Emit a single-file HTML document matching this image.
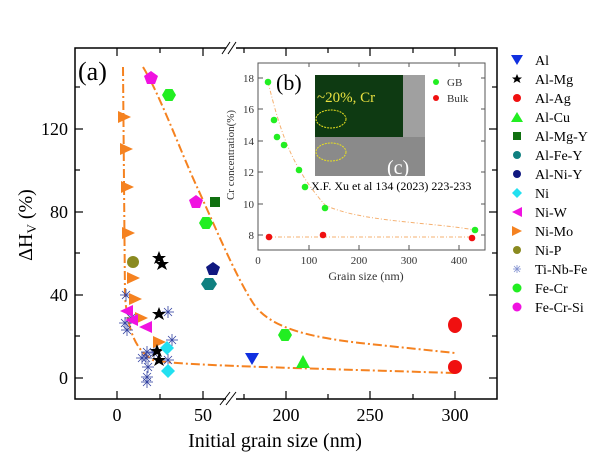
<!DOCTYPE html>
<html><head><style>body{margin:0;background:#fff}svg{display:block}svg text{font-family:"Liberation Serif","Times New Roman",serif}</style></head><body>
<svg width="600" height="464" viewBox="0 0 600 464" xmlns="http://www.w3.org/2000/svg" font-family="Liberation Serif, serif">
<defs>
<g id="tr"><polygon points="-6,-6 7,0 -6,6" fill="#f58220"/></g>
<g id="tl"><polygon points="6,-6 -7,0 6,6" fill="#f012e0"/></g>
<g id="st"><polygon points="0,-7 2,-2 7,-2 3,1 5,6 0,3 -5,6 -3,1 -7,-2 -2,-2" fill="#000"/></g>
<g id="ast" stroke="#3040a0" stroke-width="0.8"><line x1="-6" y1="0" x2="6" y2="0"/><line x1="0" y1="-6" x2="0" y2="6"/><line x1="-4" y1="-4" x2="4" y2="4"/><line x1="-4" y1="4" x2="4" y2="-4"/></g>
<g id="hx"><polygon points="-3.5,-6 3.5,-6 7,0 3.5,6 -3.5,6 -7,0" fill="#22ee22"/></g>
</defs>
<rect x="75" y="48" width="422" height="351" fill="none" stroke="#000" stroke-width="1.5"/>
<rect x="226" y="44" width="10" height="8" fill="#fff"/>
<rect x="226" y="395" width="10" height="8" fill="#fff"/>
<g stroke="#000" stroke-width="1"><line x1="222" y1="54" x2="230" y2="42"/><line x1="228" y1="54" x2="236" y2="42"/><line x1="220" y1="405" x2="230" y2="392"/><line x1="226" y1="405" x2="236" y2="392"/></g>
<g stroke="#000" stroke-width="1.2">
<line x1="117" y1="399" x2="117" y2="391"/><line x1="160" y1="399" x2="160" y2="394"/><line x1="203" y1="399" x2="203" y2="391"/>
<line x1="244" y1="399" x2="244" y2="394"/><line x1="286" y1="399" x2="286" y2="391"/><line x1="328" y1="399" x2="328" y2="394"/><line x1="370" y1="399" x2="370" y2="391"/><line x1="413" y1="399" x2="413" y2="394"/><line x1="455" y1="399" x2="455" y2="391"/>
<line x1="117" y1="48" x2="117" y2="56"/><line x1="160" y1="48" x2="160" y2="53"/><line x1="203" y1="48" x2="203" y2="56"/><line x1="244" y1="48" x2="244" y2="53"/><line x1="286" y1="48" x2="286" y2="56"/><line x1="328" y1="48" x2="328" y2="53"/><line x1="370" y1="48" x2="370" y2="56"/><line x1="413" y1="48" x2="413" y2="53"/><line x1="455" y1="48" x2="455" y2="56"/>
<line x1="75" y1="378" x2="83" y2="378"/><line x1="75" y1="336" x2="80" y2="336"/><line x1="75" y1="295" x2="83" y2="295"/><line x1="75" y1="253" x2="80" y2="253"/><line x1="75" y1="212" x2="83" y2="212"/><line x1="75" y1="170" x2="80" y2="170"/><line x1="75" y1="129" x2="83" y2="129"/><line x1="75" y1="87" x2="80" y2="87"/>
<line x1="497" y1="378" x2="489" y2="378"/><line x1="497" y1="336" x2="492" y2="336"/><line x1="497" y1="295" x2="489" y2="295"/><line x1="497" y1="253" x2="492" y2="253"/><line x1="497" y1="212" x2="489" y2="212"/><line x1="497" y1="170" x2="492" y2="170"/><line x1="497" y1="129" x2="489" y2="129"/><line x1="497" y1="87" x2="492" y2="87"/>
</g>
<g font-size="18" text-anchor="middle">
<text x="117" y="421">0</text><text x="203" y="421">50</text><text x="286" y="421">200</text><text x="370" y="421">250</text><text x="455" y="421">300</text>
<text x="275" y="447" font-size="20">Initial grain size (nm)</text>
</g>
<g font-size="18" text-anchor="end">
<text x="68" y="384">0</text><text x="68" y="301">40</text><text x="68" y="218">80</text><text x="68" y="135">120</text>
</g>
<text transform="translate(32,225) rotate(-90)" font-size="20" text-anchor="middle">ΔH<tspan font-size="13" dy="4">V</tspan><tspan dy="-4"> (%)</tspan></text>
<text x="78" y="80" font-size="26">(a)</text>
<g fill="none" stroke="#f58220" stroke-width="2" stroke-dasharray="9,3,2,3">
<path d="M143,67 C160,95 180,150 197,187 S235,275 253,303 S320,338 360,343 L455,353"/>
<path d="M123,67 L125,297 C128,330 135,350 153,360 C165,363 200,365 293,368 L455,373"/>
</g>
<use href="#ast" x="126" y="295"/><use href="#ast" x="125" y="323"/><use href="#ast" x="127" y="330"/><use href="#ast" x="131" y="318"/><use href="#ast" x="168" y="312"/><use href="#ast" x="172" y="340"/><use href="#ast" x="147" y="352"/><use href="#ast" x="146" y="358"/><use href="#ast" x="148" y="367"/><use href="#ast" x="147" y="377"/><use href="#ast" x="147" y="382"/><use href="#ast" x="168" y="360"/><use href="#ast" x="154" y="353"/><use href="#ast" x="142" y="358"/>
<use href="#tr" x="124" y="117"/><use href="#tr" x="126" y="149"/><use href="#tr" x="127" y="187"/><use href="#tr" x="128" y="233"/><use href="#tr" x="133" y="278"/><use href="#tr" x="135" y="299"/><use href="#tr" x="141" y="318"/><use href="#tr" x="159" y="342"/>
<use href="#tl" x="127" y="311"/><use href="#tl" x="132" y="320"/><use href="#tl" x="146" y="327"/>
<circle cx="133" cy="262" r="6" fill="#8a8a20"/>
<use href="#st" x="159" y="258"/><use href="#st" x="162" y="264"/><use href="#st" x="159" y="314"/><use href="#st" x="157" y="351"/><use href="#st" x="159" y="360"/>
<polygon points="167,341 174,348 167,355 160,348" fill="#22e0f0"/><polygon points="168,364 175,371 168,378 161,371" fill="#22e0f0"/>
<polygon points="151,71 158,76 155,84 147,84 144,76" fill="#f012e0"/><polygon points="196,195 203,200 200,208 192,208 189,200" fill="#f012e0"/>
<use href="#hx" x="169" y="95"/><use href="#hx" x="206" y="223"/><use href="#hx" x="285" y="335"/>
<rect x="210" y="197" width="10" height="10" fill="#107010"/>
<polygon points="213,262 220,267 217,275 209,275 206,267" fill="#101880"/>
<polygon points="205,278 213,278 217,284 213,290 205,290 201,284" fill="#108080"/>
<polygon points="245,353 259,353 252,365" fill="#1030e0"/>
<polygon points="303,355 310,368 296,368" fill="#22ee22"/>
<ellipse cx="455" cy="325" rx="7" ry="8" fill="#f01010"/><circle cx="455" cy="367" r="7" fill="#f01010"/>
<rect x="258" y="63" width="227" height="187" fill="#fff" stroke="#555" stroke-width="1"/>
<g stroke="#555" stroke-width="1">
<line x1="258" y1="235" x2="263" y2="235"/><line x1="258" y1="204" x2="263" y2="204"/><line x1="258" y1="172" x2="263" y2="172"/><line x1="258" y1="141" x2="263" y2="141"/><line x1="258" y1="109" x2="263" y2="109"/><line x1="258" y1="78" x2="263" y2="78"/>
<line x1="309" y1="250" x2="309" y2="245"/><line x1="359" y1="250" x2="359" y2="245"/><line x1="409" y1="250" x2="409" y2="245"/><line x1="459" y1="250" x2="459" y2="245"/>
<line x1="309" y1="63" x2="309" y2="67"/><line x1="359" y1="63" x2="359" y2="67"/><line x1="409" y1="63" x2="409" y2="67"/><line x1="459" y1="63" x2="459" y2="67"/>
<line x1="485" y1="235" x2="481" y2="235"/><line x1="485" y1="204" x2="481" y2="204"/><line x1="485" y1="172" x2="481" y2="172"/><line x1="485" y1="141" x2="481" y2="141"/><line x1="485" y1="109" x2="481" y2="109"/><line x1="485" y1="78" x2="481" y2="78"/>
</g>
<g font-size="11" text-anchor="end" fill="#333"><text x="254" y="239">8</text><text x="254" y="208">10</text><text x="254" y="176">12</text><text x="254" y="145">14</text><text x="254" y="113">16</text><text x="254" y="82">18</text></g>
<g font-size="11" text-anchor="middle" fill="#333"><text x="258" y="264">0</text><text x="309" y="264">100</text><text x="359" y="264">200</text><text x="409" y="264">300</text><text x="459" y="264">400</text><text x="366" y="280" font-size="12">Grain size (nm)</text></g>
<text transform="translate(234,155) rotate(-90)" font-size="11" text-anchor="middle" fill="#333">Cr concentration(%)</text>
<rect x="315" y="75" width="110" height="101" fill="#8a8a8a"/>
<rect x="315" y="75" width="88" height="62" fill="#0e3a12"/>
<rect x="403" y="75" width="22" height="62" fill="#a0a0a0"/>
<ellipse cx="331" cy="119" rx="15" ry="9" fill="none" stroke="#e8e020" stroke-dasharray="2,1"/>
<ellipse cx="331" cy="152" rx="15" ry="9" fill="none" stroke="#e8e020" stroke-dasharray="2,1"/>
<text x="317" y="102" font-size="15" fill="#e8e040">~20%, Cr</text>
<text x="387" y="174" font-size="20" fill="#fff">(c)</text>
<text x="276" y="90" font-size="22">(b)</text>
<text x="311" y="190" font-size="12">X.F. Xu et al 134 (2023) 223-233</text>
<circle cx="436" cy="82" r="3" fill="#22ee22"/><text x="447" y="86" font-size="11" fill="#333">GB</text>
<circle cx="436" cy="98" r="3" fill="#f01010"/><text x="447" y="102" font-size="11" fill="#333">Bulk</text>
<g fill="none" stroke="#f5b070" stroke-width="1" stroke-dasharray="4,2,1,2">
<path d="M268,82 C280,130 290,165 325,205 C360,222 430,222 475,230"/><path d="M269,237 L472,237"/>
</g>
<g fill="#22ee22"><circle cx="268" cy="82" r="3.3"/><circle cx="274" cy="120" r="3.3"/><circle cx="277" cy="137" r="3.3"/><circle cx="284" cy="145" r="3.3"/><circle cx="299" cy="170" r="3.3"/><circle cx="305" cy="187" r="3.3"/><circle cx="325" cy="208" r="3.3"/><circle cx="475" cy="230" r="3.3"/></g>
<g fill="#f01010"><circle cx="269" cy="237" r="3.3"/><circle cx="323" cy="235" r="3.3"/><circle cx="472" cy="238" r="3.3"/></g>
<g font-size="14">
<polygon points="511,55 523,55 517,65" fill="#1030e0"/><text x="535" y="65">Al</text>
<polygon points="517,74 518.5,77.5 522,77.5 519.3,79.7 520.5,83 517,81 513.5,83 514.7,79.7 512,77.5 515.5,77.5" fill="#000"/><text x="535" y="84">Al-Mg</text>
<circle cx="517" cy="98" r="4" fill="#f01010"/><text x="535" y="103">Al-Ag</text>
<polygon points="517,112 523,122 511,122" fill="#22ee22"/><text x="535" y="122">Al-Cu</text>
<rect x="513" y="132" width="8" height="8" fill="#107010"/><text x="535" y="141">Al-Mg-Y</text>
<circle cx="517" cy="155" r="4" fill="#108080"/><text x="535" y="160">Al-Fe-Y</text>
<circle cx="517" cy="174" r="4" fill="#101880"/><text x="535" y="179">Al-Ni-Y</text>
<polygon points="517,188 522,193 517,198 512,193" fill="#22e0f0"/><text x="535" y="198">Ni</text>
<polygon points="522,207 512,212 522,217" fill="#f012e0"/><text x="535" y="217">Ni-W</text>
<polygon points="512,226 522,231 512,236" fill="#f58220"/><text x="535" y="236">Ni-Mo</text>
<circle cx="517" cy="250" r="4" fill="#8a8a20"/><text x="535" y="255">Ni-P</text>
<g stroke="#8090d0" stroke-width="0.8"><line x1="513" y1="269" x2="521" y2="269"/><line x1="517" y1="265" x2="517" y2="273"/><line x1="514" y1="266" x2="520" y2="272"/><line x1="514" y1="272" x2="520" y2="266"/></g><text x="535" y="274">Ti-Nb-Fe</text>
<circle cx="517" cy="288" r="4.5" fill="#22ee22"/><text x="535" y="293">Fe-Cr</text>
<circle cx="517" cy="307" r="4.5" fill="#f012e0"/><text x="535" y="312">Fe-Cr-Si</text>
</g>
</svg>
</body></html>
